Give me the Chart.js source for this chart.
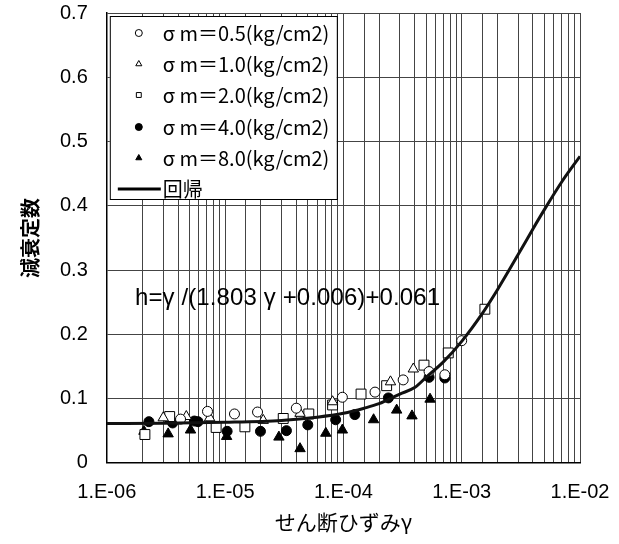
<!DOCTYPE html>
<html>
<head>
<meta charset="utf-8">
<script src="https://cdn.jsdelivr.net/npm/chart.js@4.4.1/dist/chart.umd.min.js"></script>
<style>
    html, body { margin: 0; padding: 0; background: #fff; }
    #wrap { width: 619px; height: 544px; }
</style>
</head>
<body>
<div id="wrap"><canvas id="chart"></canvas></div>
<script>
// axis ticks
const xTickValues = [1e-6, 1e-5, 1e-4, 1e-3, 1e-2];
const xTickLabels = ['1.E-06', '1.E-05', '1.E-04', '1.E-03', '1.E-02'];
const yTickLabels = ['0', '0.1', '0.2', '0.3', '0.4', '0.5', '0.6', '0.7'];

const seriesNames = ['σ m＝0.5(kg/cm2)', 'σ m＝1.0(kg/cm2)', 'σ m＝2.0(kg/cm2)', 'σ m＝4.0(kg/cm2)', 'σ m＝8.0(kg/cm2)'];
const curveName = '回帰';
const equationText = 'h=γ /(1.803 γ +0.006)+0.061';

// σm=0.5 (open circle)
const s05x = [4.2e-6, 7.1e-6, 1.2e-5, 1.88e-5, 4.0e-5, 9.8e-5, 1.85e-4, 3.2e-4, 5.3e-4, 7.2e-4, 1.0e-3];
const s05y = [0.068, 0.080, 0.076, 0.079, 0.085, 0.102, 0.110, 0.129, 0.142, 0.137, 0.190];
// σm=1.0 (open triangle)
const s10x = [3.0e-6, 4.7e-6, 7.4e-6, 2.1e-5, 4.3e-5, 8.1e-5, 2.5e-4, 3.9e-4];
const s10y = [0.070, 0.072, 0.070, 0.066, 0.077, 0.095, 0.126, 0.146];
// σm=2.0 (open square)
const s20x = [2.1e-6, 3.4e-6, 8.4e-6, 1.47e-5, 3.1e-5, 5.1e-5, 8.1e-5, 1.41e-4, 2.32e-4, 4.8e-4, 7.7e-4, 1.57e-3];
const s20y = [0.044, 0.072, 0.055, 0.056, 0.069, 0.076, 0.090, 0.107, 0.120, 0.152, 0.171, 0.239];
// σm=4.0 (filled circle)
const s40x = [2.27e-6, 3.6e-6, 5.5e-6, 5.9e-6, 1.04e-5, 1.99e-5, 3.3e-5, 5.0e-5, 8.6e-5, 1.25e-4, 2.4e-4, 5.3e-4, 7.2e-4];
const s40y = [0.064, 0.062, 0.065, 0.064, 0.049, 0.049, 0.050, 0.059, 0.067, 0.075, 0.101, 0.133, 0.132];
// σm=8.0 (filled triangle)
const s80x = [2.06e-6, 3.3e-6, 5.1e-6, 1.03e-5, 2.85e-5, 4.3e-5, 7.1e-5, 9.8e-5, 1.8e-4, 2.82e-4, 3.8e-4, 5.4e-4];
const s80y = [0.049, 0.045, 0.051, 0.041, 0.040, 0.022, 0.046, 0.051, 0.067, 0.082, 0.073, 0.099];

// regression curve
const curveX = [1e-6, 3e-6, 1e-5, 3e-5, 6e-5, 1e-4, 1.5e-4, 2e-4, 3e-4, 4e-4, 5e-4, 7e-4, 1e-3, 1.5e-3, 2e-3, 3e-3, 4e-3, 5e-3, 7e-3, 1e-2];
const curveY = [0.061, 0.0615, 0.063, 0.066, 0.071, 0.077, 0.085, 0.092, 0.107, 0.117, 0.133, 0.157, 0.189, 0.233, 0.269, 0.324, 0.364, 0.394, 0.437, 0.477];

const latinFont = '"Liberation Sans", Arial, sans-serif';
const jpFont = '"Noto Sans CJK JP", sans-serif';
const tickFont = {family: latinFont, size: 20};

function toPoints(xs, ys) {
    return xs.map((x, i) => ({x: x, y: ys[i]}));
}

function drawMarker(ctx, style, filled, x, y, r) {
    ctx.beginPath();
    if (style === 'circle') {
        ctx.arc(x, y, r, 0, Math.PI * 2);
    } else if (style === 'triangle') {
        ctx.moveTo(x, y - r);
        ctx.lineTo(x + r * 0.866, y + r * 0.5);
        ctx.lineTo(x - r * 0.866, y + r * 0.5);
        ctx.closePath();
    } else {
        ctx.rect(x - r * 0.7, y - r * 0.7, r * 1.4, r * 1.4);
    }
    ctx.fillStyle = filled ? '#000' : '#fff';
    ctx.fill();
    ctx.strokeStyle = '#000';
    ctx.lineWidth = 1;
    ctx.stroke();
}

const legendMarkers = [
    ['circle', false], ['triangle', false], ['rect', false], ['circle', true], ['triangle', true]
];

const overlayPlugin = {
    id: 'overlay',
    afterDraw(chart) {
        const ctx = chart.ctx;
        const area = chart.chartArea;
        ctx.save();
        // legend box
        const bx = area.left + 3, by = area.top + 3, bw = 227, bh = 183;
        ctx.fillStyle = '#fff';
        ctx.fillRect(bx, by, bw, bh);
        ctx.strokeStyle = '#000';
        ctx.lineWidth = 1;
        ctx.strokeRect(bx + 0.5, by + 0.5, bw, bh);

        ctx.font = '20px ' + jpFont;
        ctx.textBaseline = 'middle';
        ctx.textAlign = 'left';
        const rowY = [33, 64, 95, 127, 158];
        seriesNames.forEach((name, i) => {
            drawMarker(ctx, legendMarkers[i][0], legendMarkers[i][1], bx + 29, rowY[i], 3.5);
            ctx.fillStyle = '#000';
            ctx.fillText(name, bx + 53, rowY[i]);
        });
        ctx.strokeStyle = '#000';
        ctx.lineWidth = 3;
        ctx.beginPath();
        ctx.moveTo(bx + 8, 189);
        ctx.lineTo(bx + 51, 189);
        ctx.stroke();
        ctx.fillStyle = '#000';
        ctx.fillText(curveName, bx + 53, 189);

        // regression equation, stretched to the width it has in the figure
        ctx.font = '24px ' + latinFont;
        const w = ctx.measureText(equationText).width;
        const spacing = (305 - w) / (equationText.length - 1);
        if ('letterSpacing' in ctx) {
            ctx.letterSpacing = spacing.toFixed(2) + 'px';
        }
        ctx.fillText(equationText, 135, 298);
        ctx.restore();
    }
};

const dataset = (label, xs, ys, style, filled, r) => ({
    label: label,
    data: toPoints(xs, ys),
    pointStyle: style,
    pointRadius: r,
    pointHoverRadius: r,
    pointBackgroundColor: filled ? '#000' : '#fff',
    pointBorderColor: '#000',
    pointBorderWidth: 1,
    showLine: false
});

new Chart(document.getElementById('chart'), {
    type: 'scatter',
    data: {
        datasets: [
            {
                label: curveName,
                data: toPoints(curveX, curveY),
                showLine: true,
                borderColor: '#111',
                borderWidth: 3,
                pointRadius: 0,
                cubicInterpolationMode: 'monotone'
            },
            dataset(seriesNames[0], s05x, s05y, 'circle', false, 5),
            dataset(seriesNames[1], s10x, s10y, 'triangle', false, 6),
            dataset(seriesNames[2], s20x, s20y, 'rect', false, 7),
            dataset(seriesNames[3], s40x, s40y, 'circle', true, 5),
            dataset(seriesNames[4], s80x, s80y, 'triangle', true, 6)
        ]
    },
    options: {
        responsive: true,
        maintainAspectRatio: false,
        animation: false,
        layout: {padding: {left: 18, right: 39, top: 13, bottom: 4}},
        plugins: {legend: {display: false}, tooltip: {enabled: false}},
        scales: {
            x: {
                type: 'logarithmic',
                min: 1e-6,
                max: 1e-2,
                grid: {color: '#444', lineWidth: 1, drawTicks: true, tickLength: 18, tickColor: 'rgba(0,0,0,0)'},
                border: {color: '#000', width: 1.5},
                ticks: {
                    autoSkip: false,
                    maxRotation: 0,
                    padding: 0,
                    color: '#000',
                    font: tickFont,
                    callback: (value) => {
                        const i = xTickValues.findIndex(v => Math.abs(v - value) / v < 1e-6);
                        return i >= 0 ? xTickLabels[i] : '';
                    }
                },
                title: {
                    display: true,
                    text: 'せん断ひずみγ',
                    color: '#000',
                    font: {family: jpFont, size: 21},
                    padding: {top: 5, bottom: 5}
                }
            },
            y: {
                min: 0,
                max: 0.7,
                grid: {color: '#444', lineWidth: 1, drawTicks: true, tickLength: 19, tickColor: 'rgba(0,0,0,0)'},
                border: {color: '#000', width: 1.5},
                ticks: {
                    stepSize: 0.1,
                    padding: 0,
                    color: '#000',
                    font: tickFont,
                    callback: (value, i) => yTickLabels[i]
                },
                title: {
                    display: true,
                    text: '減衰定数',
                    color: '#000',
                    font: {family: jpFont, size: 20, weight: 'bold'},
                    padding: {top: 0, bottom: 18}
                }
            }
        }
    },
    plugins: [overlayPlugin]
});
</script>
</body>
</html>
